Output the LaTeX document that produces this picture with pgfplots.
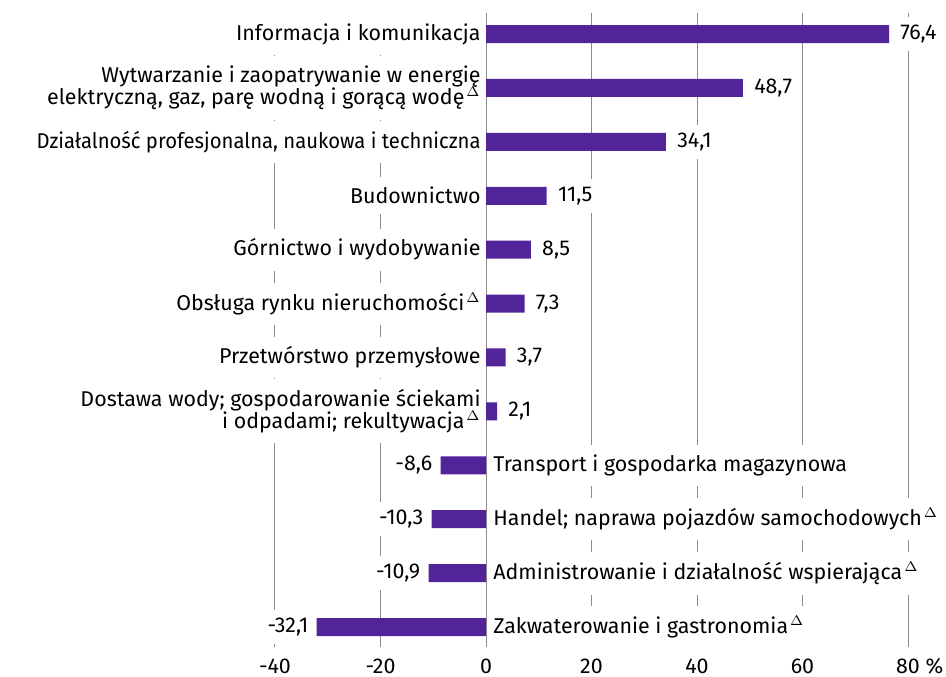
\documentclass[border=0pt]{standalone}
\usepackage{fontspec}
\setmainfont{Fira Sans}
\usepackage{pgfplots}
\pgfplotsset{compat=1.18}
\definecolor{barc}{RGB}{82,36,153}
\definecolor{gridc}{RGB}{140,140,140}
\newcommand{\dl}{\kern1pt$^\Delta$}
\begin{document}
\begin{tikzpicture}[font=\fontsize{10.7}{11.2}\selectfont,
  catL/.style={anchor=east, fill=white, inner xsep=2pt, inner ysep=5pt, xshift=-0.5pt, align=right},
  catR/.style={anchor=west, fill=white, inner xsep=2pt, inner ysep=5pt, xshift=1.5pt, align=left}]
\begin{axis}[name=ax, scale only axis, width=316.5pt, height=317pt,
  xmin=-40, xmax=80, ymin=-0.39, ymax=11.37, y dir=reverse,
  xtick={-40,-20,0,20,40,60,80},
  xticklabels={-40,-20,0,20,40,60,80\rlap{ \%}},
  ytick=\empty, xmajorgrids, grid style={gridc, line width=0.5pt},
  axis line style={draw=none}, major tick length=0pt,
  xticklabel style={font=\fontsize{10.7}{11.2}\selectfont, inner ysep=0pt, yshift=-5.6pt},
  clip=false, xbar, bar width=9pt, bar shift=0pt,
  point meta=explicit symbolic,
]
\addplot[fill=barc, draw=none, nodes near coords, nodes near coords align={right},
  every node near coord/.append style={fill=white, inner xsep=2pt, inner ysep=4pt, xshift=3.5pt}]
  coordinates {
  (76.4,0) [76,4]
  (48.7,1) [48,7]
  (34.1,2) [34,1]
  (11.5,3) [11,5]
  (8.5,4) [8,5]
  (7.3,5) [7,3]
  (3.7,6) [3,7]
  (2.1,7) [2,1]
  };
\addplot[fill=barc, draw=none, nodes near coords, nodes near coords align={left},
  every node near coord/.append style={fill=white, inner xsep=2pt, inner ysep=4pt, xshift=-2pt}]
  coordinates {
  (-8.6,8) [-8,6]
  (-10.3,9) [-10,3]
  (-10.9,10) [-10,9]
  (-32.1,11) [-32,1]
  };
\node[catL] at (axis cs:0,0) {Informacja i komunikacja};
\node[catL] at (axis cs:0,1) {Wytwarzanie i zaopatrywanie w energię\\elektryczną, gaz, parę wodną i gorącą wodę\dl};
\node[catL] at (axis cs:0,2) {\scalebox{0.947}[1]{Działalność profesjonalna, naukowa i techniczna}};
\node[catL] at (axis cs:0,3) {Budownictwo};
\node[catL] at (axis cs:0,4) {Górnictwo i wydobywanie};
\node[catL] at (axis cs:0,5) {Obsługa rynku nieruchomości\dl};
\node[catL] at (axis cs:0,6) {Przetwórstwo przemysłowe};
\node[catL] at (axis cs:0,7) {Dostawa wody; gospodarowanie ściekami\\i odpadami; rekultywacja\dl};
\node[catR] at (axis cs:0,8) {Transport i gospodarka magazynowa};
\node[catR] at (axis cs:0,9) {Handel; naprawa pojazdów samochodowych\dl};
\node[catR] at (axis cs:0,10) {Administrowanie i działalność wspierająca\dl};
\node[catR] at (axis cs:0,11) {Zakwaterowanie i gastronomia\dl};
\end{axis}
\pgfresetboundingbox
\path[use as bounding box] ([xshift=-137.5pt, yshift=-15pt]ax.south west) rectangle ([xshift=19pt, yshift=6.5pt]ax.north east);
\end{tikzpicture}
\end{document}
